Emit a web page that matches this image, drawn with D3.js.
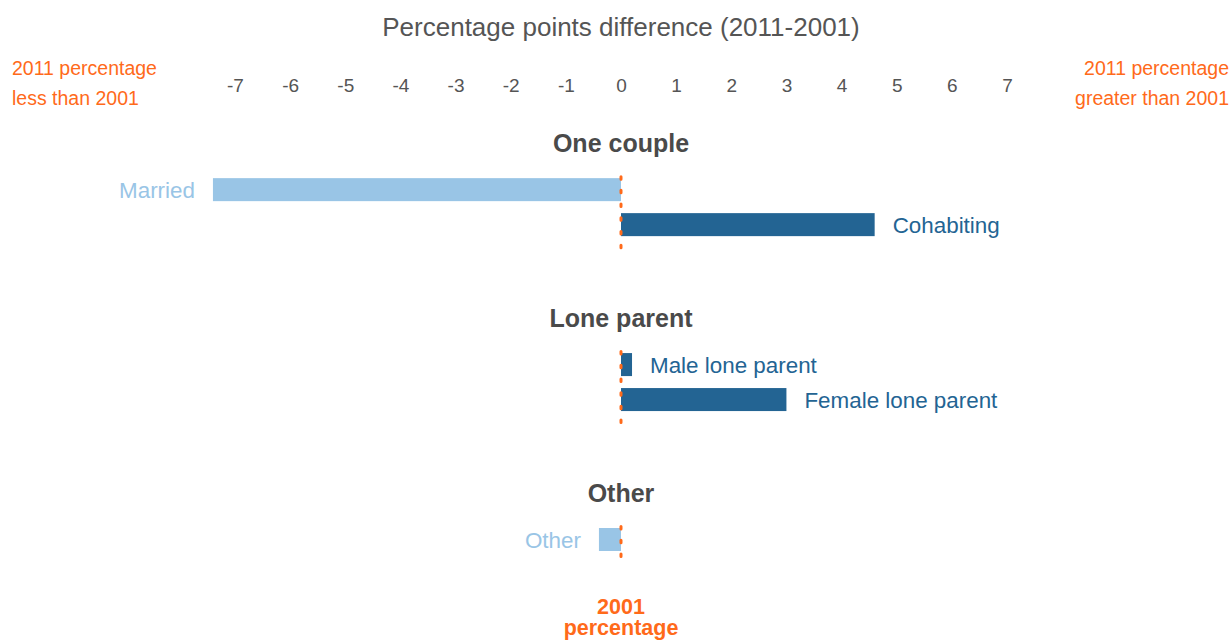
<!DOCTYPE html>
<html><head><meta charset="utf-8">
<script src="https://cdn.jsdelivr.net/npm/d3@7"></script>
<style>body{margin:0;background:#fff}svg{display:block;font-family:"Liberation Sans",Arial,sans-serif}</style>
</head><body><svg id="c" width="1231" height="641"></svg>
<script>
const groups = ["One couple", "Lone parent", "Other"];
const categories = ["Married", "Cohabiting", "Male lone parent", "Female lone parent", "Other"];
const categoryGroup = ["One couple", "One couple", "Lone parent", "Lone parent", "Other"];
const values = [-7.4, 4.6, 0.2, 3.0, -0.4];
const tickValues = [-7, -6, -5, -4, -3, -2, -1, 0, 1, 2, 3, 4, 5, 6, 7];

const ORANGE = "#FF6A1A", LIGHT = "#99C5E6", DARK = "#236493", GREY = "#555555";
const svg = d3.select("#c");
const x = d3.scaleLinear().domain([-7, 7]).range([235, 1007]);

// vertical layout in slots: header->bar 4, bar->bar 3, bar->next header 8
const rows = [];
let slot = 0;
groups.forEach((g, gi) => {
  if (gi > 0) slot += 8;
  rows.push({type: "header", label: g, slot});
  slot += 4;
  categories.forEach((c, i) => {
    if (categoryGroup[i] !== g) return;
    if (rows[rows.length - 1].type === "bar") slot += 3;
    rows.push({type: "bar", label: c, group: g, value: values[i], slot});
  });
});
const y = d3.scaleLinear().domain([0, slot]).range([143, 539.5]);
const barH = 23;

svg.append("text").attr("x", 621).attr("y", 36).attr("text-anchor", "middle")
  .attr("font-size", 26).attr("fill", GREY).text("Percentage points difference (2011-2001)");

const axis = d3.axisTop(x).tickValues(tickValues).tickSize(0).tickPadding(0).tickFormat(d3.format("d"));
const ax = svg.append("g").attr("transform", "translate(0,92)").call(axis);
ax.select(".domain").remove();
ax.selectAll("text").attr("font-size", 19).attr("fill", GREY)
  .attr("font-family", "Liberation Sans, Arial, sans-serif").attr("dy", 0);
ax.selectAll("text").text(d => d < 0 ? "-" + Math.abs(d) : d);

const side = svg.append("g").attr("font-size", 19.5).attr("fill", ORANGE);
side.append("text").attr("x", 12).attr("y", 75).text("2011 percentage");
side.append("text").attr("x", 12).attr("y", 105).text("less than 2001");
side.append("text").attr("x", 1229).attr("y", 75).attr("text-anchor", "end").text("2011 percentage");
side.append("text").attr("x", 1229).attr("y", 105).attr("text-anchor", "end").text("greater than 2001");

svg.selectAll(".hdr").data(rows.filter(r => r.type === "header")).join("text")
  .attr("class", "hdr").attr("x", x(0)).attr("y", r => y(r.slot) + 9)
  .attr("text-anchor", "middle").attr("font-size", 25).attr("font-weight", "bold")
  .attr("fill", "#4a4a4a").text(r => r.label);

const bars = rows.filter(r => r.type === "bar");
svg.selectAll(".bar").data(bars).join("rect").attr("class", "bar")
  .attr("x", r => x(Math.min(0, r.value))).attr("width", r => Math.abs(x(r.value) - x(0)))
  .attr("y", r => y(r.slot) - barH / 2).attr("height", barH)
  .attr("fill", r => r.value < 0 ? LIGHT : DARK);

svg.selectAll(".lbl").data(bars).join("text").attr("class", "lbl")
  .attr("x", r => r.value < 0 ? x(r.value) - 18 : x(r.value) + 18)
  .attr("y", r => y(r.slot) + 8)
  .attr("text-anchor", r => r.value < 0 ? "end" : "start")
  .attr("font-size", 22.4).attr("fill", r => r.value < 0 ? LIGHT : DARK).text(r => r.label);

// dotted 2001 reference line per group
groups.forEach(g => {
  const gb = bars.filter(b => b.group === g);
  svg.append("line").attr("x1", x(0)).attr("x2", x(0))
    .attr("y1", y(gb[0].slot) - 13).attr("y2", y(gb[gb.length - 1].slot) + 25)
    .attr("stroke", ORANGE).attr("stroke-width", 3).attr("stroke-linecap", "round")
    .attr("stroke-dasharray", "2.5 11.2");
});

const bl = svg.append("g").attr("font-size", 21.5).attr("font-weight", "bold").attr("fill", ORANGE).attr("text-anchor", "middle");
bl.append("text").attr("x", x(0)).attr("y", 614).text("2001");
bl.append("text").attr("x", x(0)).attr("y", 635).text("percentage");
</script></body></html>
